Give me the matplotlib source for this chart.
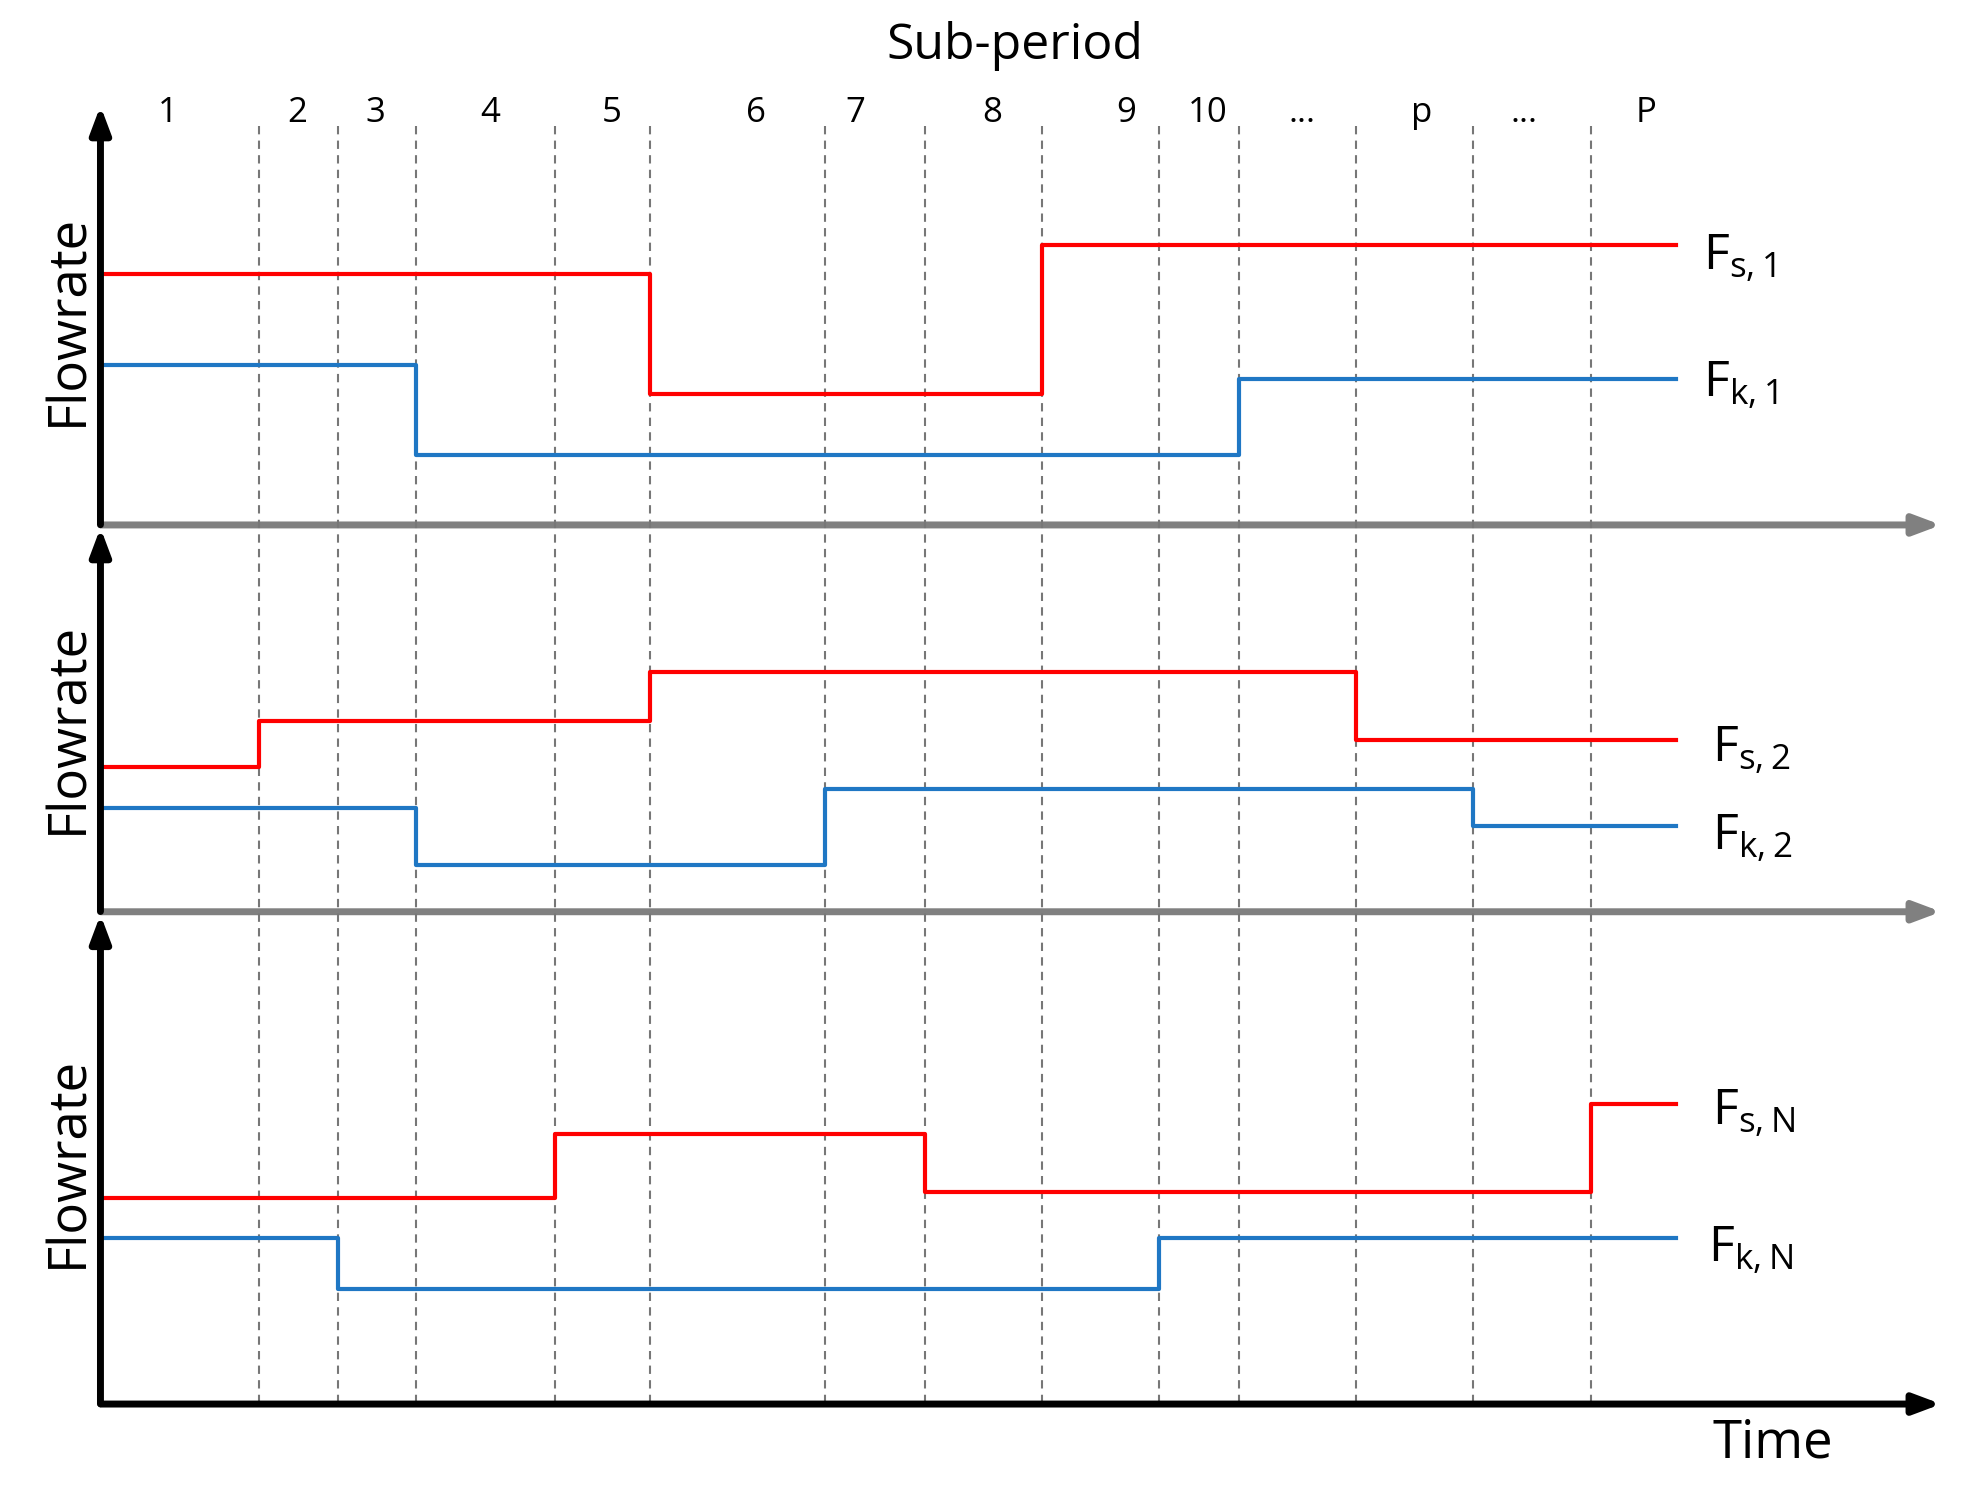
import matplotlib
matplotlib.use("Agg")
import matplotlib.pyplot as plt

# boundaries of sub-periods (time axis units)
t_start, t_end = 80, 1335
bounds = [206, 269, 331, 442, 518, 657, 737, 830, 923, 987, 1080, 1173, 1267]
sub_labels = ["1", "2", "3", "4", "5", "6", "7", "8", "9", "10", "...", "p", "...", "P"]
sub_label_x = [134, 237, 299, 390, 487, 602, 681, 790, 897, 962, 1037, 1132, 1214, 1311]

# step series: change times and levels (levels in panel-local image units)
fs1_t = [80, 518, 830]; fs1_v = [218, 314, 195]
fk1_t = [80, 331, 987]; fk1_v = [291, 362, 302]
fs2_t = [80, 206, 518, 1080]; fs2_v = [611, 574, 535, 589]
fk2_t = [80, 331, 657, 1173]; fk2_v = [643, 689, 628, 658]
fsN_t = [80, 442, 737, 1267]; fsN_v = [954, 903, 949, 879]
fkN_t = [80, 269, 923]; fkN_v = [986, 1026, 986]

series = [
    (fs1_t, fs1_v, "red", r"F$_{\mathregular{s,1}}$", 1356, 205),
    (fk1_t, fk1_v, "#1f77c4", r"F$_{\mathregular{k,1}}$", 1356, 306),
    (fs2_t, fs2_v, "red", r"F$_{\mathregular{s,2}}$", 1363, 597),
    (fk2_t, fk2_v, "#1f77c4", r"F$_{\mathregular{k,2}}$", 1363, 667),
    (fsN_t, fsN_v, "red", r"F$_{\mathregular{s,N}}$", 1363, 886),
    (fkN_t, fkN_v, "#1f77c4", r"F$_{\mathregular{k,N}}$", 1360, 995),
]

fig = plt.figure(figsize=(19.64, 15.02), dpi=100)
ax = fig.add_axes([0, 0, 1, 1])
ax.set_xlim(0, 1564)
ax.set_ylim(1196, 0)
ax.axis("off")
font = "Open Sans"

for b in bounds:
    ax.plot([b, b], [100, 1118], ls=(0, (4, 3)), color="#777777", lw=1.5, zorder=1)

for t, v, c, lab, lx, ly in series:
    xs = list(t) + [t_end]
    ys = list(v) + [v[-1]]
    ax.step(xs, ys, where="post", color=c, lw=3, zorder=3)
    ax.text(lx, ly, lab, fontsize=36, fontfamily=font, va="center", ha="left")

arrow_black = dict(arrowstyle="-|>,head_length=1.6,head_width=0.6", color="black", lw=5)
arrow_gray = dict(arrowstyle="-|>,head_length=1.6,head_width=0.6", color="#808080", lw=5)
ax.annotate("", xy=(80, 82), xytext=(80, 420), arrowprops=arrow_black)
ax.annotate("", xy=(80, 418), xytext=(80, 728), arrowprops=arrow_black)
ax.annotate("", xy=(80, 726), xytext=(80, 1120), arrowprops=arrow_black)
ax.annotate("", xy=(1548, 418), xytext=(78, 418), arrowprops=arrow_gray, zorder=0)
ax.annotate("", xy=(1548, 726), xytext=(78, 726), arrowprops=arrow_gray, zorder=0)
ax.annotate("", xy=(1548, 1118), xytext=(78, 1118), arrowprops=arrow_black)

for x, s in zip(sub_label_x, sub_labels):
    ax.text(x, 90, s, fontsize=25, fontfamily=font, ha="center", va="center")
ax.text(808, 37, "Sub-period", fontsize=36, fontfamily=font, ha="center", va="center")
for y in [255, 580, 925]:
    ax.text(55, y, "Flowrate", fontsize=38, fontfamily=font, rotation=90, ha="center", va="center")
ax.text(1412, 1150, "Time", fontsize=38, fontfamily=font, ha="center", va="center")

fig.savefig("out.png", dpi=100)
